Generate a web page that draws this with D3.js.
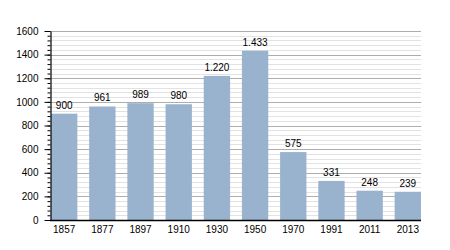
<!DOCTYPE html>
<html>
<head>
<meta charset="utf-8">
<script src="https://cdn.jsdelivr.net/npm/d3@7"></script>
<style>
  body { margin: 0; background: #fff; }
</style>
</head>
<body>
<div class="chart"></div>
<script>
// Parameters
const width = 450;
const height = 250;
const margin = { top: 31, right: 29, bottom: 30, left: 51 };

// data
const years = ['1857', '1877', '1897', '1910', '1930', '1950', '1970', '1991', '2011', '2013'];
const population = [900, 961, 989, 980, 1220, 1433, 575, 331, 248, 239];
const yTicks = [0, 200, 400, 600, 800, 1000, 1200, 1400, 1600];

const data = years.map((y, i) => ({ year: y, value: population[i] }));

const fmt = v => d3.format(',')(v).replace(/,/g, '.');

const svg = d3.select('.chart')
    .append('svg')
    .attr('width', width)
    .attr('height', height)
    .attr('style', 'font: 10px "Liberation Sans", Arial, sans-serif');

const scaleX = d3.scaleBand()
    .domain(years)
    .range([margin.left, width - margin.right])
    .paddingInner(0.31)
    .paddingOuter(0);

const scaleY = d3.scaleLinear()
    .domain([0, 1600])
    .range([height - margin.bottom, margin.top]);

// minor grid every 40
svg.append('g')
    .selectAll('line')
    .data(d3.range(0, 1601, 40).filter(v => v % 200 !== 0))
    .join('line')
    .attr('x1', margin.left)
    .attr('x2', width - margin.right)
    .attr('y1', d => Math.round(scaleY(d)) + 0.5)
    .attr('y2', d => Math.round(scaleY(d)) + 0.5)
    .attr('stroke', '#e2e2e2');

// major grid
svg.append('g')
    .selectAll('line')
    .data(yTicks.filter(v => v > 0))
    .join('line')
    .attr('x1', margin.left)
    .attr('x2', width - margin.right)
    .attr('y1', d => Math.round(scaleY(d)) + 0.5)
    .attr('y2', d => Math.round(scaleY(d)) + 0.5)
    .attr('stroke', '#adadad');

// bars
svg.append('g')
    .selectAll('rect')
    .data(data)
    .join('rect')
    .attr('x', d => scaleX(d.year))
    .attr('width', scaleX.bandwidth())
    .attr('y', d => scaleY(d.value))
    .attr('height', d => scaleY(0) - scaleY(d.value))
    .style('fill', '#99b3cf');

// value labels
svg.append('g')
    .attr('text-anchor', 'middle')
    .style('fill', '#000')
    .selectAll('text')
    .data(data)
    .join('text')
    .attr('x', d => scaleX(d.year) + scaleX.bandwidth() / 2)
    .attr('y', d => scaleY(d.value) - 5)
    .text(d => fmt(d.value));

// y axis minor ticks
svg.append('g')
    .attr('transform', `translate(${margin.left - 0.5}, 0)`)
    .call(d3.axisLeft(scaleY).tickValues(d3.range(0, 1601, 40)).tickSize(3).tickFormat(''))
    .call(g => g.select('.domain').remove());

// y axis
svg.append('g')
    .attr('transform', `translate(${margin.left - 0.5}, 0)`)
    .call(d3.axisLeft(scaleY).tickValues(yTicks).tickSize(6).tickPadding(6).tickSizeOuter(0).tickFormat(d3.format('d')))
    .call(g => g.selectAll('text').style('font-size', '10px').style('font-family', '"Liberation Sans", Arial, sans-serif'))
    .call(g => g.select('.domain').attr('stroke-width', 1.2));

// x axis
svg.append('g')
    .attr('transform', `translate(0, ${height - margin.bottom + 0.5})`)
    .call(d3.axisBottom(scaleX).tickSize(0).tickPadding(5).tickSizeOuter(0))
    .call(g => g.selectAll('text').style('font-size', '10px').style('font-family', '"Liberation Sans", Arial, sans-serif'))
    .call(g => g.select('.domain')
        .attr('d', `M${margin.left - 1},0H${width - margin.right}`)
        .attr('stroke-width', 1.5));
</script>
</body>
</html>
